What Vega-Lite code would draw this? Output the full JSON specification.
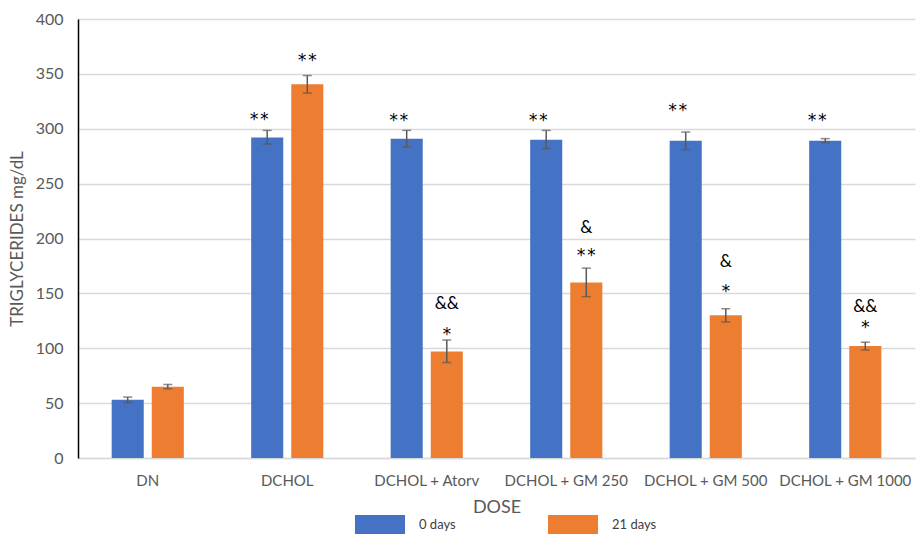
{
  "$schema": "https://vega.github.io/schema/vega-lite/v6.json",
  "width": 837,
  "height": 439,
  "autosize": "none",
  "padding": {"left": 78, "top": 19, "right": 2, "bottom": 76},
  "config": {
    "font": "Lato",
    "view": {"stroke": null},
    "axis": {"labelColor": "#595959", "titleColor": "#595959", "titleFontWeight": "normal"},
    "axisY": {
      "labelFontSize": 16, "labelPadding": 15, "ticks": false,
      "titleFontSize": 17, "titlePadding": 9,
      "domainColor": "#000000", "domainWidth": 1.5,
      "gridColor": "#d9d9d9", "gridWidth": 1.5
    }
  },
  "datasets": {
    "bars": [
      {"group": "DN", "series": "0 days", "value": 53, "lo": 50.5, "hi": 55.5},
      {"group": "DN", "series": "21 days", "value": 65, "lo": 63, "hi": 67},
      {"group": "DCHOL", "series": "0 days", "value": 292, "lo": 286, "hi": 298.5},
      {"group": "DCHOL", "series": "21 days", "value": 340.5, "lo": 332.5, "hi": 348.5},
      {"group": "DCHOL + Atorv", "series": "0 days", "value": 291, "lo": 283.5, "hi": 298.5},
      {"group": "DCHOL + Atorv", "series": "21 days", "value": 97, "lo": 87, "hi": 107.5},
      {"group": "DCHOL + GM 250", "series": "0 days", "value": 290, "lo": 282, "hi": 298.5},
      {"group": "DCHOL + GM 250", "series": "21 days", "value": 160, "lo": 147, "hi": 173},
      {"group": "DCHOL + GM 500", "series": "0 days", "value": 289, "lo": 281, "hi": 297},
      {"group": "DCHOL + GM 500", "series": "21 days", "value": 130, "lo": 124, "hi": 136},
      {"group": "DCHOL + GM 1000", "series": "0 days", "value": 289, "lo": 287.5, "hi": 291},
      {"group": "DCHOL + GM 1000", "series": "21 days", "value": 102, "lo": 98.5, "hi": 105.5}
    ],
    "notes": [
      {"group": "DCHOL", "series": "0 days", "label": "**", "at": 303},
      {"group": "DCHOL", "series": "21 days", "label": "**", "at": 357},
      {"group": "DCHOL + Atorv", "series": "0 days", "label": "**", "at": 302.5},
      {"group": "DCHOL + Atorv", "series": "21 days", "label": "&&", "at": 136},
      {"group": "DCHOL + Atorv", "series": "21 days", "label": "*", "at": 107.5},
      {"group": "DCHOL + GM 250", "series": "0 days", "label": "**", "at": 302.5},
      {"group": "DCHOL + GM 250", "series": "21 days", "label": "&", "at": 205},
      {"group": "DCHOL + GM 250", "series": "21 days", "label": "**", "at": 179.5},
      {"group": "DCHOL + GM 500", "series": "0 days", "label": "**", "at": 311.5},
      {"group": "DCHOL + GM 500", "series": "21 days", "label": "&", "at": 174},
      {"group": "DCHOL + GM 500", "series": "21 days", "label": "*", "at": 147},
      {"group": "DCHOL + GM 1000", "series": "0 days", "label": "**", "at": 302.5},
      {"group": "DCHOL + GM 1000", "series": "21 days", "label": "&&", "at": 133},
      {"group": "DCHOL + GM 1000", "series": "21 days", "label": "*", "at": 114}
    ]
  },
  "encoding": {
    "x": {
      "field": "group", "type": "nominal", "sort": null,
      "scale": {"domain": ["DN", "DCHOL", "DCHOL + Atorv", "DCHOL + GM 250", "DCHOL + GM 500", "DCHOL + GM 1000"], "paddingInner": 0, "paddingOuter": 0},
      "axis": {
        "title": "DOSE", "labelAngle": 0, "labelFontSize": 15, "labelPadding": 15,
        "titleFontSize": 18, "titlePadding": 10, "ticks": false,
        "domainColor": "#d9d9d9", "domainWidth": 1.5, "labelLimit": 200
      }
    },
    "xOffset": {
      "field": "series", "type": "nominal",
      "scale": {"domain": ["0 days", "21 days"], "paddingInner": 0.2, "paddingOuter": 0.84}
    }
  },
  "layer": [
    {
      "data": {"name": "bars"},
      "mark": {"type": "bar"},
      "encoding": {
        "y": {
          "field": "value", "type": "quantitative",
          "scale": {"domain": [0, 400]},
          "axis": {"title": "TRIGLYCERIDES mg/dL", "values": [0, 50, 100, 150, 200, 250, 300, 350, 400]}
        },
        "color": {
          "field": "series", "type": "nominal",
          "scale": {"domain": ["0 days", "21 days"], "range": ["#4472C4", "#ED7D31"]},
          "legend": {
            "title": null, "orient": "none", "direction": "horizontal",
            "legendX": 277, "legendY": 481,
            "symbolType": "M-1,-0.4H1V0.4H-1Z", "symbolSize": 2500, "symbolStrokeWidth": 0,
            "symbolOpacity": 1,
            "labelFontSize": 13, "labelColor": "#404040", "labelOffset": 14,
            "columnPadding": 92
          }
        }
      }
    },
    {
      "data": {"name": "bars"},
      "mark": {"type": "rule", "color": "#595959", "strokeWidth": 1.5},
      "encoding": {
        "y": {"field": "lo", "type": "quantitative", "axis": {"title": "TRIGLYCERIDES mg/dL", "values": [0, 50, 100, 150, 200, 250, 300, 350, 400]}},
        "y2": {"field": "hi"}
      }
    },
    {
      "data": {"name": "bars"},
      "mark": {"type": "tick", "color": "#595959", "thickness": 1.5, "size": 9, "orient": "horizontal"},
      "encoding": {"y": {"field": "lo", "type": "quantitative", "axis": {"title": "TRIGLYCERIDES mg/dL", "values": [0, 50, 100, 150, 200, 250, 300, 350, 400]}}}
    },
    {
      "data": {"name": "bars"},
      "mark": {"type": "tick", "color": "#595959", "thickness": 1.5, "size": 9, "orient": "horizontal"},
      "encoding": {"y": {"field": "hi", "type": "quantitative", "axis": {"title": "TRIGLYCERIDES mg/dL", "values": [0, 50, 100, 150, 200, 250, 300, 350, 400]}}}
    },
    {
      "data": {"name": "notes"},
      "transform": [{"filter": "datum.series === '0 days'"}],
      "mark": {"type": "text", "font": "DejaVu Sans Mono", "fontSize": 17, "color": "#000000", "baseline": "alphabetic", "dx": -8},
      "encoding": {
        "y": {"field": "at", "type": "quantitative", "axis": {"title": "TRIGLYCERIDES mg/dL", "values": [0, 50, 100, 150, 200, 250, 300, 350, 400]}},
        "text": {"field": "label"}
      }
    },
    {
      "data": {"name": "notes"},
      "transform": [{"filter": "datum.series === '21 days' && indexof(datum.label, '*') >= 0"}],
      "mark": {"type": "text", "font": "DejaVu Sans Mono", "fontSize": 17, "color": "#000000", "baseline": "alphabetic"},
      "encoding": {
        "y": {"field": "at", "type": "quantitative", "axis": {"title": "TRIGLYCERIDES mg/dL", "values": [0, 50, 100, 150, 200, 250, 300, 350, 400]}},
        "text": {"field": "label"}
      }
    },
    {
      "data": {"name": "notes"},
      "transform": [{"filter": "datum.series === '21 days' && indexof(datum.label, '&') >= 0"}],
      "mark": {"type": "text", "fontSize": 17, "color": "#000000", "baseline": "alphabetic"},
      "encoding": {
        "y": {"field": "at", "type": "quantitative", "axis": {"title": "TRIGLYCERIDES mg/dL", "values": [0, 50, 100, 150, 200, 250, 300, 350, 400]}},
        "text": {"field": "label"}
      }
    }
  ]
}
